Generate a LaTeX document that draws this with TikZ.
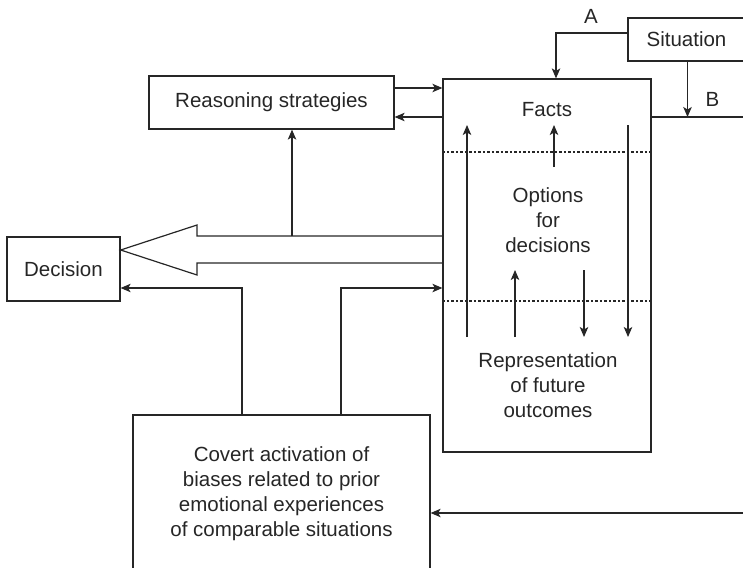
\documentclass[tikz,border=0pt]{standalone}
\usepackage{fontspec}
\setmainfont{Liberation Sans}
\usetikzlibrary{arrows.meta}

\tikzset{
    box/.style={draw, inner sep=0pt, align=center},
    arr/.style={-{Stealth[length=10pt, width=8.5pt, inset=2.5pt]}},
    dots/.style={line width=2.3pt, dash pattern=on 2.3pt off 2.2pt},
}

\begin{document}
\begin{tikzpicture}[x=1pt, y=-1pt, line width=1.2pt, color=black!85,
    font=\fontsize{20.5}{25}\selectfont]
    \useasboundingbox (0,0) rectangle (743,567);
    \clip (0,0) rectangle (743,567);
    % boxes
    \node[box, minimum width=117pt, minimum height=43pt] (situation) at (686.5, 39.5) {Situation};
    \node[box, minimum width=245pt, minimum height=53pt] (reason) at (271.5, 102.5) {Reasoning strategies};
    \node[box, minimum width=208pt, minimum height=373pt] (work) at (547, 265.5) {};
    \node[box, minimum width=113pt, minimum height=64pt] (decision) at (63.5, 269) {Decision};
    \node[box, minimum width=297pt, minimum height=185pt] (covert) at (281.5, 507.5) {}; % runs off the page
    % texts
    \node[anchor=base] (facts) at (547, 116) {Facts};
    \node[align=center] (options) at (548, 220) {Options\\for\\decisions};
    \node[align=center] (outcomes) at (548, 385) {Representation\\of future\\outcomes};
    \node[align=center] (biases) at (281.5, 494) {Covert activation of\\biases related to prior\\emotional experiences\\of comparable situations};
    \node (A) at (591, 16.3) {A};
    \node (B) at (712.5, 99.5) {B};
    % dotted dividers
    \draw[dots] (work.west |- 0,152) -- (work.east |- 0,152);
    \draw[dots] (work.west |- 0,301) -- (work.east |- 0,301);
    % arrows inside the box
    \foreach \x/\ya/\yb in {467/337/125, 554/167/125, 515/337/270, 584/270/337, 628/125/337}
        \draw[arr] (\x,\ya) -- (\x,\yb);
    % situation A and B
    \draw[arr] ([yshift=6.5pt]situation.west) -| ([xshift=9pt]work.north);
    \coordinate (bout) at (750, 117);
    \draw (work.east |- bout) -- (bout);
    \draw[arr] ([xshift=1pt]situation.south) -- ([xshift=1pt]situation.south |- bout);
    % reasoning strategies
    \draw[arr] ([yshift=14.5pt]reason.east) -- ([yshift=14.5pt]reason.east -| work.west);
    \draw[arr] ([yshift=-14.5pt]reason.east -| work.west) -- ([yshift=-14.5pt]reason.east);
    % big arrow to decision
    \coordinate (tip) at (decision.east |- 0,250);
    \draw (work.west |- 0,236) -- (197,236) -- (197,225) -- (tip) -- (197,275) -- (197,263) -- (work.west |- 0,263);
    \coordinate (shaft) at (292, 236);
    \draw[arr] (shaft) -- (shaft |- reason.south);
    % covert biases
    \coordinate (low) at (0, 288);
    \draw[arr] (covert.north -| 242,0) |- (decision.east |- low);
    \draw[arr] (covert.north -| 341,0) |- (work.west |- low);
    \coordinate (cin) at (750, 513);
    \draw[arr] (cin) -- (cin -| covert.east);
\end{tikzpicture}
\end{document}
